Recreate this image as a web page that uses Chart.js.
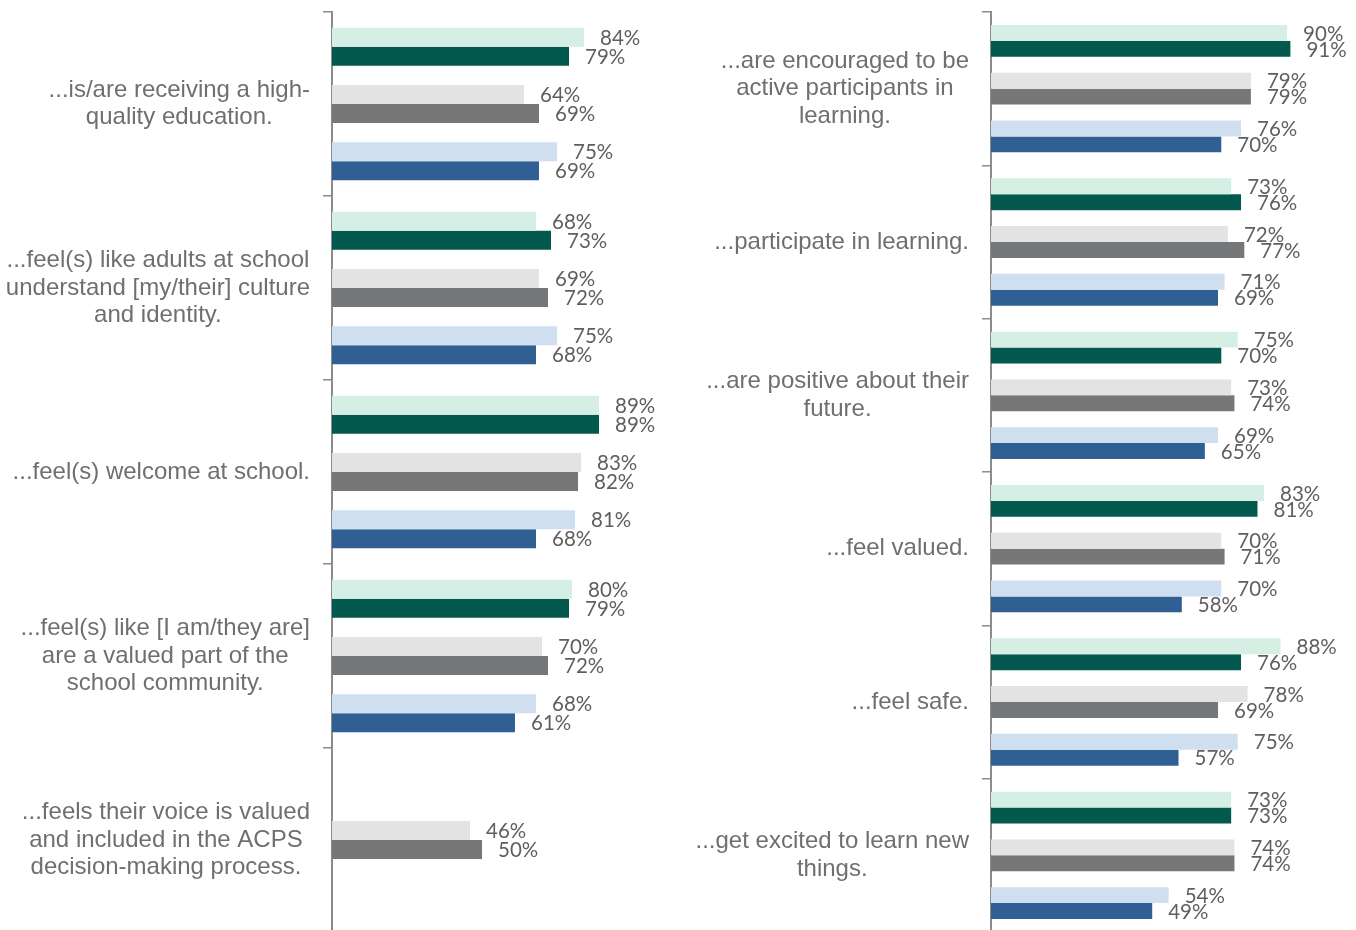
<!DOCTYPE html>
<html>
<head>
<meta charset="utf-8">
<script src="https://cdn.jsdelivr.net/npm/chart.js@4.4.1/dist/chart.umd.min.js"></script>
<style>
    html, body { margin: 0; padding: 0; background: #fff; overflow: hidden; }
    #leftChart { position: absolute; left: 0; top: 0; }
    #rightChart { position: absolute; left: 678px; top: 0; }
</style>
</head>
<body>
<canvas id="leftChart" width="678" height="934"></canvas>
<canvas id="rightChart" width="678" height="934"></canvas>
<script>
// **************************
//    DATA
// **************************
const leftCategories = [
    ["...is/are receiving a high-", "quality education."],
    ["...feel(s) like adults at school", "understand [my/their] culture", "and identity."],
    ["...feel(s) welcome at school."],
    ["...feel(s) like [I am/they are]", "are a valued part of the", "school community."],
    ["...feels their voice is valued", "and included in the ACPS", "decision-making process."]
];
const leftLightGreen = [84, 68, 89, 80, null];
const leftDarkGreen  = [79, 73, 89, 79, null];
const leftLightGray  = [64, 69, 83, 70, 46];
const leftDarkGray   = [69, 72, 82, 72, 50];
const leftLightBlue  = [75, 75, 81, 68, null];
const leftDarkBlue   = [69, 68, 68, 61, null];

const rightCategories = [
    ["...are encouraged to be", "active participants in", "learning."],
    ["...participate in learning."],
    ["...are positive about their", "future."],
    ["...feel valued."],
    ["...feel safe."],
    ["...get excited to learn new", "things."]
];
const rightLightGreen = [90, 73, 75, 83, 88, 73];
const rightDarkGreen  = [91, 76, 70, 81, 76, 73];
const rightLightGray  = [79, 72, 73, 70, 78, 74];
const rightDarkGray   = [79, 77, 74, 71, 69, 74];
const rightLightBlue  = [76, 71, 69, 70, 75, 54];
const rightDarkBlue   = [70, 69, 65, 58, 57, 49];

// bar colours, in series order
const barColors = ["#d5efe5", "#03594d", "#e3e3e3", "#767779", "#cfdfef", "#2f5f93"];

// **************************
//    PLUGINS
// **************************
const valueLabels = {
    id: "valueLabels",
    afterDatasetsDraw(chart) {
        const ctx = chart.ctx;
        ctx.save();
        ctx.font = '20.5px Lato';
        ctx.fillStyle = "#5f5f5f";
        ctx.textAlign = "left";
        ctx.textBaseline = "middle";
        chart.data.datasets.forEach((ds, i) => {
            if (ds.spacer) return;
            chart.getDatasetMeta(i).data.forEach((bar, j) => {
                const v = ds.data[j];
                if (v === null) return;
                ctx.fillText(v + "%", bar.x + 16, bar.y + 1);
            });
        });
        ctx.restore();
    }
};

const categoryLabels = {
    id: "categoryLabels",
    afterDraw(chart) {
        const ctx = chart.ctx;
        const y = chart.scales.y;
        const right = chart.chartArea.left - 22;
        const lh = 27.5;
        ctx.save();
        ctx.font = '24px "Liberation Sans"';
        ctx.fillStyle = "#6d6f73";
        ctx.textAlign = "center";
        ctx.textBaseline = "middle";
        chart.data.labels.forEach((lines, i) => {
            const maxW = Math.max(...lines.map(l => ctx.measureText(l).width));
            const cx = right - maxW / 2;
            const y0 = y.getPixelForValue(i) - (lines.length - 1) * lh / 2;
            lines.forEach((l, k) => ctx.fillText(l, cx, y0 + k * lh));
        });
        ctx.restore();
    }
};

// **************************
//    CHART BUILDER
// **************************
function buildDatasets(categories, series) {
    // two empty slots keep the colour pairs apart
    const order = [0, 1, null, 2, 3, null, 4, 5];
    return order.map(k => {
        if (k === null) {
            return { label: "", spacer: true, data: categories.map(() => null) };
        }
        return {
            label: "series " + k,
            data: series[k],
            backgroundColor: barColors[k],
            borderWidth: 0
        };
    });
}

function makeChart(id, categories, series, axisWidth, padRight) {
    return new Chart(document.getElementById(id), {
        type: "bar",
        data: {
            labels: categories,
            datasets: buildDatasets(categories, series)
        },
        options: {
            indexAxis: "y",
            responsive: false,
            animation: false,
            layout: { padding: { top: 12, bottom: 2, left: 0, right: padRight } },
            datasets: { bar: { barPercentage: 1, categoryPercentage: 0.83 } },
            plugins: { legend: { display: false }, tooltip: { enabled: false } },
            scales: {
                x: { display: false, min: 0, max: 100 },
                y: {
                    grid: { offset: true, drawOnChartArea: false, tickLength: 9, color: "#8c8c8c", lineWidth: 1.5 },
                    border: { color: "#8c8c8c", width: 2 },
                    ticks: { display: false },
                    afterFit: s => { s.width = axisWidth; }
                }
            }
        },
        plugins: [valueLabels, categoryLabels]
    });
}

makeChart("leftChart", leftCategories,
    [leftLightGreen, leftDarkGreen, leftLightGray, leftDarkGray, leftLightBlue, leftDarkBlue],
    332, 46);

makeChart("rightChart", rightCategories,
    [rightLightGreen, rightDarkGreen, rightLightGray, rightDarkGray, rightLightBlue, rightDarkBlue],
    313, 36);
</script>
</body>
</html>
